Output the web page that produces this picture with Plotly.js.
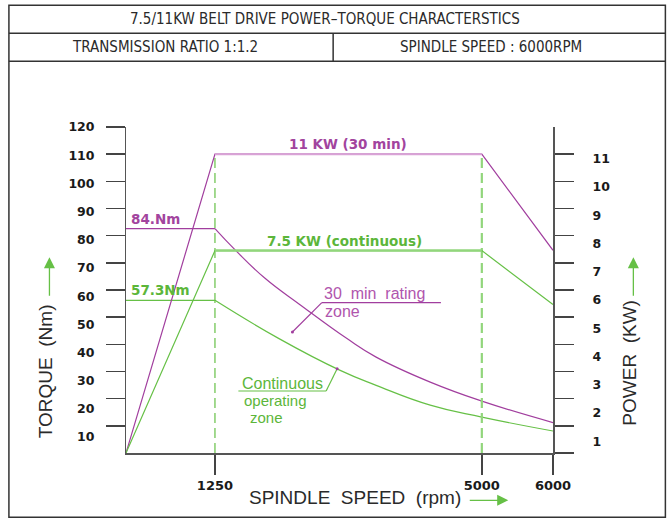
<!DOCTYPE html>
<html>
<head>
<meta charset="utf-8">
<script src="https://cdn.plot.ly/plotly-3.0.1.min.js"></script>
<style>html,body{margin:0;padding:0;background:#fff}#chart{width:668px;height:519px}</style>
</head>
<body>
<div id="chart"></div>
<script>
// ---- data ----
const speedTicks = [1250, 5000, 6000];
const torqueTicks = [10, 20, 30, 40, 50, 60, 70, 80, 90, 100, 110, 120];
const powerTicks = [1, 2, 3, 4, 5, 6, 7, 8, 9, 10, 11];
const powerRpm = [0, 1250, 5000, 6000];
const power30min = [0, 11, 11, 7.46];
const powerCont = [0, 7.45, 7.45, 5.47];
const torqueRpm30 = [1250, 1540, 1945, 2450, 3100, 3515, 4275, 5000, 6000];
const torque30min = [82.6, 74.6, 64.5, 54.5, 42.2, 35.3, 26.1, 19.1, 11.2];
const torqueRpmCont = [1250, 2150, 3010, 3515, 4275, 5000, 6000];
const torqueCont = [56.2, 42.1, 30.4, 24.9, 17.6, 13.2, 8.1];

// ---- styling ----
const MAG = '#a13e9e', MAG_LIGHT = '#d9a3d6', MAG_TXT = '#a2449e';
const GRN = '#66c046', GRN_LIGHT = '#92d67c', GRN_TXT = '#5cb63a';
const AX = '#555';
const CAD = 'Liberation Sans Narrow, DejaVu Sans Condensed, Liberation Sans, sans-serif';
const CAD2 = 'Liberation Sans, Arial, sans-serif';
const NUM = 'DejaVu Sans, Verdana, sans-serif';

// plot-area pixel frame (for paper-referenced decorations)
const L = 126, R = 552.7, T = 126.7, B = 452.7, W = R - L, H = B - T;
const px = x => (x - L) / W;
const py = y => (B - y) / H;

const traces = [];
traces.push({x: [powerRpm[1], powerRpm[1]], y: [0, power30min[1]], yaxis: 'y2', mode: 'lines',
  line: {color: GRN, width: 1.2, dash: '10px,5px'}, hoverinfo: 'skip'});
traces.push({x: [powerRpm[2], powerRpm[2]], y: [0, power30min[2]], yaxis: 'y2', mode: 'lines',
  line: {color: GRN_LIGHT, width: 2.2, dash: '10px,5px'}, hoverinfo: 'skip'});
traces.push({x: [0, torqueRpm30[0]], y: [torque30min[0], torque30min[0]], mode: 'lines', line: {color: MAG, width: 1.2}});
traces.push({x: torqueRpm30, y: torque30min, mode: 'lines', line: {color: MAG, width: 1.2, shape: 'spline', smoothing: 1.3}});
traces.push({x: [0, torqueRpmCont[0]], y: [torqueCont[0], torqueCont[0]], mode: 'lines', line: {color: GRN, width: 1.2}});
traces.push({x: torqueRpmCont, y: torqueCont, mode: 'lines', line: {color: GRN, width: 1.2, shape: 'spline', smoothing: 1.3}});
traces.push({x: powerRpm, y: power30min, yaxis: 'y2', mode: 'lines', line: {color: MAG, width: 1.2}});
traces.push({x: powerRpm.slice(1, 3), y: power30min.slice(1, 3), yaxis: 'y2', mode: 'lines', line: {color: MAG_LIGHT, width: 2}});
traces.push({x: powerRpm, y: powerCont, yaxis: 'y2', mode: 'lines', line: {color: GRN, width: 1.2}});
traces.push({x: powerRpm.slice(1, 3), y: powerCont.slice(1, 3), yaxis: 'y2', mode: 'lines', line: {color: GRN_LIGHT, width: 2.5}});
traces.push({x: [0], y: [torqueTicks[0]], yaxis: 'y3', mode: 'markers', marker: {opacity: 0}, hoverinfo: 'skip'});
traces.push({x: [0], y: [powerTicks[0]], yaxis: 'y4', mode: 'markers', marker: {opacity: 0}, hoverinfo: 'skip'});

const numFont = (s) => ({family: NUM, size: s, color: '#1a1a1a', weight: 700});

const layout = {
  width: 668, height: 519,
  margin: {l: L, r: 668 - R, t: T, b: 519 - B, pad: 0},
  paper_bgcolor: '#fff', plot_bgcolor: '#fff',
  showlegend: false,
  xaxis: {range: [0, 6000], tickvals: speedTicks, ticktext: speedTicks.map(String),
    ticks: 'outside', ticklen: 20, tickwidth: 1.5, tickcolor: '#444',
    showline: true, linecolor: AX, linewidth: 1.5, showgrid: false, zeroline: false,
    tickfont: numFont(13)},
  yaxis: {range: [0, 120], tickvals: torqueTicks, ticks: 'outside', ticklen: 19, tickwidth: 1.5, tickcolor: '#444',
    showticklabels: false, showline: true, linecolor: AX, linewidth: 1.5, showgrid: false, zeroline: false},
  yaxis2: {overlaying: 'y', side: 'right', range: [0, 12], tickvals: [0].concat(powerTicks),
    ticks: 'outside', ticklen: 19, tickwidth: 1.5, tickcolor: '#444',
    showticklabels: false, showline: true, linecolor: AX, linewidth: 1.5, showgrid: false, zeroline: false},
  yaxis3: {overlaying: 'y', side: 'left', range: [4.35, 120], tickvals: torqueTicks, ticktext: torqueTicks.map(String),
    ticks: 'outside', ticklen: 28, tickcolor: 'rgba(0,0,0,0)', showline: false, showgrid: false, zeroline: false,
    tickfont: numFont(12.5)},
  yaxis4: {overlaying: 'y', side: 'right', range: [0.587, 12.119], tickvals: powerTicks, ticktext: powerTicks.map(String),
    ticks: 'outside', ticklen: 36, tickcolor: 'rgba(0,0,0,0)', showline: false, showgrid: false, zeroline: false,
    tickfont: numFont(12.5)},
  shapes: [
    {type: 'rect', xref: 'paper', yref: 'paper', x0: px(9), x1: px(665), y0: py(5), y1: py(517), line: {color: '#333', width: 1.5}},
    {type: 'line', xref: 'paper', yref: 'paper', x0: px(9), x1: px(665), y0: py(33), y1: py(33), line: {color: '#333', width: 1.5}},
    {type: 'line', xref: 'paper', yref: 'paper', x0: px(9), x1: px(665), y0: py(61), y1: py(61), line: {color: '#333', width: 1.5}},
    {type: 'line', xref: 'paper', yref: 'paper', x0: px(333), x1: px(333), y0: py(33), y1: py(61), line: {color: '#333', width: 1.5}},
    {type: 'line', xref: 'paper', yref: 'paper', x0: px(321.7), x1: px(440.7), y0: py(302.3), y1: py(302.3), line: {color: MAG, width: 1.2}},
    {type: 'line', xref: 'paper', yref: 'paper', x0: px(321.7), x1: px(292.3), y0: py(302.3), y1: py(331.7), line: {color: MAG, width: 1.2}},
    {type: 'circle', xref: 'paper', yref: 'paper', x0: px(290.8), x1: px(293.8), y0: py(330.2), y1: py(333.2), fillcolor: MAG, line: {color: MAG, width: 0}},
    {type: 'line', xref: 'paper', yref: 'paper', x0: px(238.3), x1: px(326), y0: py(390.7), y1: py(390.7), line: {color: GRN, width: 1.2}},
    {type: 'line', xref: 'paper', yref: 'paper', x0: px(326), x1: px(337), y0: py(390.7), y1: py(368.5), line: {color: GRN, width: 1.2}},
    {type: 'circle', xref: 'paper', yref: 'paper', x0: px(335.5), x1: px(338.5), y0: py(367), y1: py(370), fillcolor: MAG, line: {color: MAG, width: 0}}
  ],
  annotations: []
};

const A = layout.annotations;
const cad = (s, c, f) => ({family: f || CAD, size: s, color: c || '#2a2a2a'});
A.push({xref: 'paper', yref: 'paper', x: px(325), y: py(19), text: '7.5/11KW BELT DRIVE POWER–TORQUE CHARACTERSTICS', showarrow: false, xanchor: 'center', yanchor: 'middle', font: cad(15)});
A.push({xref: 'paper', yref: 'paper', x: px(165), y: py(47), text: 'TRANSMISSION RATIO 1:1.2', showarrow: false, xanchor: 'center', yanchor: 'middle', font: cad(15)});
A.push({xref: 'paper', yref: 'paper', x: px(491), y: py(47), text: 'SPINDLE SPEED : 6000RPM', showarrow: false, xanchor: 'center', yanchor: 'middle', font: cad(15)});
A.push({xref: 'paper', yref: 'paper', x: px(45), y: py(371), text: 'TORQUE  (Nm)', textangle: -90, showarrow: false, xanchor: 'center', yanchor: 'middle', font: cad(19, null, CAD2)});
A.push({xref: 'paper', yref: 'paper', x: px(629), y: py(362), text: 'POWER  (KW)', textangle: -90, showarrow: false, xanchor: 'center', yanchor: 'middle', font: cad(19, null, CAD2)});
A.push({xref: 'paper', yref: 'paper', x: px(355), y: py(497), text: 'SPINDLE  SPEED  (rpm)', showarrow: false, xanchor: 'center', yanchor: 'middle', font: cad(19, null, CAD2)});
A.push({xref: 'paper', yref: 'paper', x: px(49.5), y: py(257), ax: 0, ay: 40, text: '', showarrow: true, arrowhead: 2, arrowsize: 1.7, arrowwidth: 1.3, arrowcolor: GRN});
A.push({xref: 'paper', yref: 'paper', x: px(633), y: py(257), ax: 0, ay: 40, text: '', showarrow: true, arrowhead: 2, arrowsize: 1.7, arrowwidth: 1.3, arrowcolor: GRN});
A.push({xref: 'paper', yref: 'paper', x: px(508), y: py(500), ax: -40, ay: 0, text: '', showarrow: true, arrowhead: 2, arrowsize: 1.7, arrowwidth: 1.3, arrowcolor: GRN});
const bold = (s, c) => ({family: NUM, size: s, color: c, weight: 700});
A.push({x: 0, y: torque30min[0], xanchor: 'left', yanchor: 'bottom', xshift: 3, text: '84.Nm', showarrow: false, font: bold(13.5, MAG_TXT)});
A.push({x: 0, y: torqueCont[0], xanchor: 'left', yanchor: 'bottom', xshift: 3, text: '57.3Nm', showarrow: false, font: bold(13.5, GRN_TXT)});
A.push({x: (powerRpm[1] + powerRpm[2]) / 2, y: power30min[1], yref: 'y2', xanchor: 'center', yanchor: 'bottom', text: '11 KW (30 min)', showarrow: false, font: bold(13.5, MAG_TXT)});
A.push({x: (powerRpm[1] + powerRpm[2]) / 2 - 50, y: powerCont[1], yref: 'y2', xanchor: 'center', yanchor: 'bottom', text: '7.5 KW (continuous)', showarrow: false, font: bold(13.5, GRN_TXT)});
A.push({xref: 'paper', yref: 'paper', x: px(322), y: py(293), text: '30  min  rating', showarrow: false, xanchor: 'left', yanchor: 'middle', font: cad(16, '#b055ad', CAD2)});
A.push({xref: 'paper', yref: 'paper', x: px(323), y: py(311), text: 'zone', showarrow: false, xanchor: 'left', yanchor: 'middle', font: cad(16, '#b055ad', CAD2)});
A.push({xref: 'paper', yref: 'paper', x: px(240), y: py(383), text: 'Continuous', showarrow: false, xanchor: 'left', yanchor: 'middle', font: cad(16, GRN_TXT, CAD2)});
A.push({xref: 'paper', yref: 'paper', x: px(242), y: py(400), text: 'operating', showarrow: false, xanchor: 'left', yanchor: 'middle', font: cad(15, GRN_TXT, CAD2)});
A.push({xref: 'paper', yref: 'paper', x: px(248), y: py(417), text: 'zone', showarrow: false, xanchor: 'left', yanchor: 'middle', font: cad(15, GRN_TXT, CAD2)});

Plotly.newPlot('chart', traces, layout, {displayModeBar: false, staticPlot: true});
</script>
</body>
</html>
